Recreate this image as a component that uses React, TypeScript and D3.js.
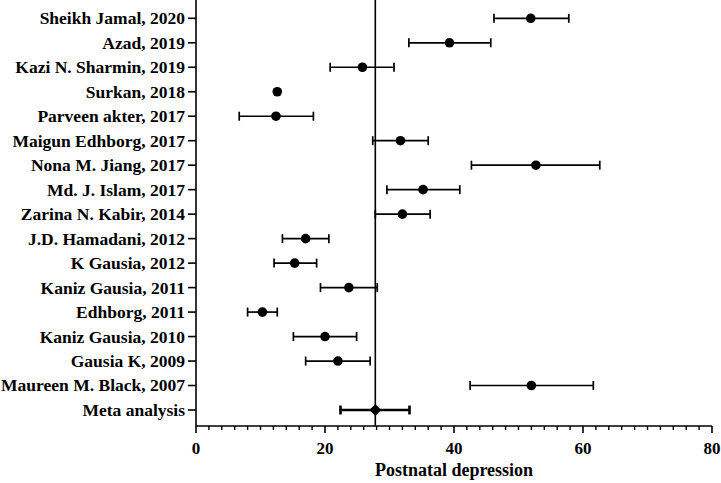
import { useEffect, useRef } from 'react';
import * as d3 from 'd3';

// studies, top to bottom
const studies = [
  'Sheikh Jamal, 2020',
  'Azad, 2019',
  'Kazi N. Sharmin, 2019',
  'Surkan, 2018',
  'Parveen akter, 2017',
  'Maigun Edhborg, 2017',
  'Nona M. Jiang, 2017',
  'Md. J. Islam, 2017',
  'Zarina N. Kabir, 2014',
  'J.D. Hamadani, 2012',
  'K Gausia, 2012',
  'Kaniz Gausia, 2011',
  'Edhborg, 2011',
  'Kaniz Gausia, 2010',
  'Gausia K, 2009',
  'Maureen M. Black, 2007',
  'Meta analysis',
];
const estimate = [51.9, 39.3, 25.8, 12.6, 12.4, 31.7, 52.7, 35.2, 32.0, 17.0, 15.3, 23.7, 10.3, 20.0, 22.0, 52.0, 27.8];
const lower = [46.2, 33.0, 20.8, 12.6, 6.7, 27.4, 42.7, 29.6, 27.8, 13.4, 12.1, 19.3, 8.0, 15.1, 17.0, 42.5, 22.4];
const upper = [57.8, 45.7, 30.7, 12.6, 18.2, 36.0, 62.6, 40.9, 36.3, 20.6, 18.7, 28.1, 12.6, 24.9, 27.0, 61.6, 33.1];

const xTicks = [0, 20, 40, 60, 80];
const pooled = 27.8;
const xTitle = 'Postnatal depression';

export default function App() {
  const svgRef = useRef<SVGSVGElement>(null);

  useEffect(() => {
    if (!svgRef.current) return;
    const svg = d3.select(svgRef.current);
    svg.selectAll('*').remove();

    const font = '"Liberation Serif", "Times New Roman", serif';
    const left = 196;
    const right = 712;
    const axisY = 426;

    const x = d3.scaleLinear().domain([0, 80]).range([left, right]);
    const y = d3.scalePoint<string>().domain(studies).range([18.3, 410]);

    // x axis with minor ticks every 2
    const gx = svg.append('g').attr('transform', `translate(0,${axisY})`);
    gx.append('line')
      .attr('x1', left).attr('x2', right)
      .attr('stroke', '#000').attr('stroke-width', 1.6);
    gx.selectAll('line.minor')
      .data(d3.range(0, 81, 2).filter(v => v % 20 !== 0))
      .join('line')
      .attr('class', 'minor')
      .attr('x1', d => x(d)).attr('x2', d => x(d))
      .attr('y1', 0).attr('y2', 4)
      .attr('stroke', '#000').attr('stroke-width', 1.4);
    gx.selectAll('line.major')
      .data(xTicks)
      .join('line')
      .attr('class', 'major')
      .attr('x1', d => x(d)).attr('x2', d => x(d))
      .attr('y1', 0).attr('y2', 7)
      .attr('stroke', '#000').attr('stroke-width', 1.6);
    gx.selectAll('text')
      .data(xTicks)
      .join('text')
      .attr('x', d => x(d))
      .attr('y', 28)
      .attr('text-anchor', 'middle')
      .style('font-family', font)
      .style('font-weight', 'bold')
      .style('font-size', '17px')
      .text(d => d);

    svg.append('text')
      .attr('x', (left + right) / 2)
      .attr('y', 476)
      .attr('text-anchor', 'middle')
      .style('font-family', font)
      .style('font-weight', 'bold')
      .style('font-size', '18px')
      .text(xTitle);

    // y axis
    svg.append('line')
      .attr('x1', left).attr('x2', left)
      .attr('y1', 0).attr('y2', axisY)
      .attr('stroke', '#000').attr('stroke-width', 1.6);
    const gy = svg.append('g');
    gy.selectAll('line')
      .data(studies)
      .join('line')
      .attr('x1', left - 8).attr('x2', left)
      .attr('y1', d => y(d)!).attr('y2', d => y(d)!)
      .attr('stroke', '#000').attr('stroke-width', 1.6);
    gy.selectAll('text')
      .data(studies)
      .join('text')
      .attr('x', left - 11)
      .attr('y', d => y(d)!)
      .attr('dy', '0.34em')
      .attr('text-anchor', 'end')
      .style('font-family', font)
      .style('font-weight', 'bold')
      .style('font-size', '17.5px')
      .text(d => d);

    // pooled reference line
    svg.append('line')
      .attr('x1', x(pooled)).attr('x2', x(pooled))
      .attr('y1', 0).attr('y2', axisY)
      .attr('stroke', '#000').attr('stroke-width', 1.6);

    // error bars
    const rows = studies.map((s, i) => ({ s, est: estimate[i], lo: lower[i], hi: upper[i], meta: i === studies.length - 1 }));
    const bars = svg.append('g')
      .selectAll('g')
      .data(rows.filter(r => r.hi > r.lo))
      .join('g')
      .attr('stroke', '#000')
      .attr('stroke-width', d => d.meta ? 2.6 : 1.7);
    bars.append('line')
      .attr('x1', d => x(d.lo)).attr('x2', d => x(d.hi))
      .attr('y1', d => y(d.s)!).attr('y2', d => y(d.s)!);
    bars.append('line')
      .attr('x1', d => x(d.lo)).attr('x2', d => x(d.lo))
      .attr('y1', d => y(d.s)! - 4.5).attr('y2', d => y(d.s)! + 4.5);
    bars.append('line')
      .attr('x1', d => x(d.hi)).attr('x2', d => x(d.hi))
      .attr('y1', d => y(d.s)! - 4.5).attr('y2', d => y(d.s)! + 4.5);

    // points
    svg.append('g')
      .selectAll('circle')
      .data(rows.filter(r => !r.meta))
      .join('circle')
      .attr('cx', d => x(d.est))
      .attr('cy', d => y(d.s)!)
      .attr('r', 4.8)
      .attr('fill', '#000');

    const diamond = d3.symbol().type(d3.symbolDiamond2).size(90);
    svg.append('g')
      .selectAll('path')
      .data(rows.filter(r => r.meta))
      .join('path')
      .attr('transform', d => `translate(${x(d.est)},${y(d.s)})`)
      .attr('d', diamond)
      .attr('fill', '#000');
  }, []);

  return (
    <svg
      ref={svgRef}
      width={721}
      height={483}
      style={{ position: 'absolute', left: 0, top: 0, background: '#fff' }}
    />
  );
}
